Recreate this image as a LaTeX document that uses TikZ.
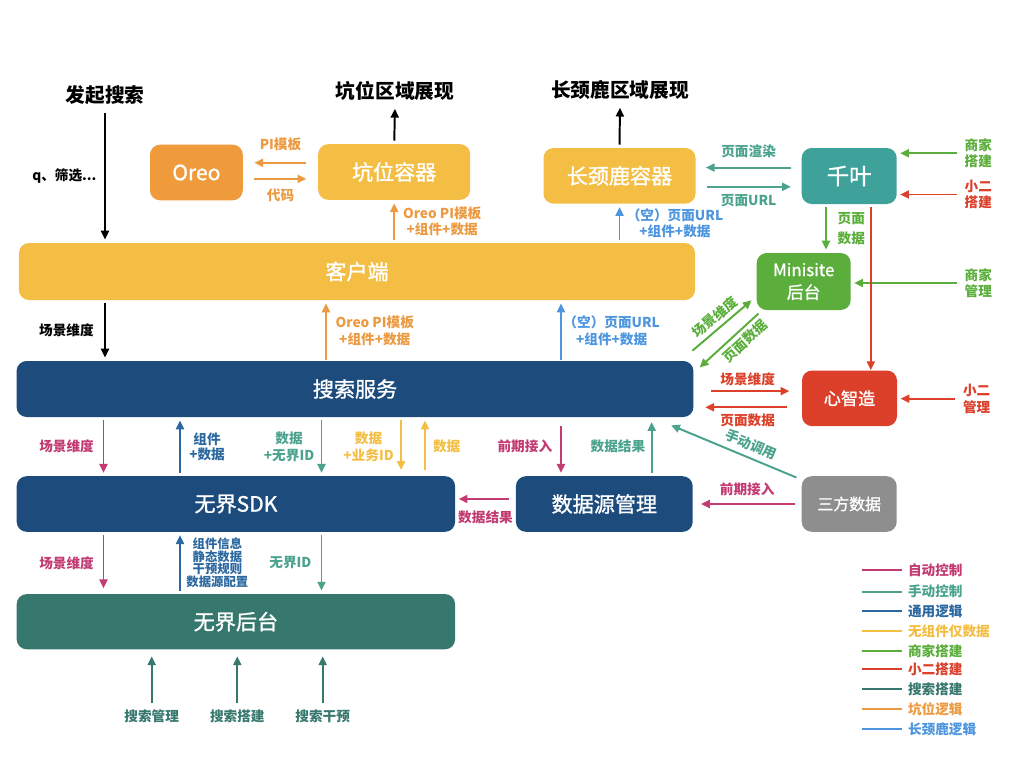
\documentclass[tikz,border=0pt]{standalone}
\usepackage{fontspec}
\setmainfont{Noto Sans CJK SC}
\newfontfamily\boxfont{Noto Sans CJK SC}[FakeBold=1.2]
\usepackage{tikz}
\usetikzlibrary{arrows.meta,positioning,calc}
\definecolor{oreo}{HTML}{EF9A3B}
\definecolor{yel}{HTML}{F3BE43}
\definecolor{dblue}{HTML}{1C4B7C}
\definecolor{qteal}{HTML}{3EA29A}
\definecolor{sgreen}{HTML}{5BAE3B}
\definecolor{xred}{HTML}{DC3F2A}
\definecolor{sgray}{HTML}{8E8E8E}
\definecolor{dteal}{HTML}{37786E}
\definecolor{mag}{HTML}{C23B72}
\definecolor{mteal}{HTML}{4BA38E}
\definecolor{nblue}{HTML}{2B68A0}
\definecolor{orng}{HTML}{EC9A41}
\definecolor{lblue}{HTML}{4D95DE}

\begin{document}
\begin{tikzpicture}[x=0.25mm, y=-0.25mm, >={Triangle[length=2.2mm,width=2mm]}, every node/.style={font=\fontsize{9.7}{12}\selectfont\bfseries, align=center}, box/.style={rounded corners=2.5mm, minimum height=13.9mm, text=white, font=\fontsize{15}{18}\selectfont\boxfont, inner sep=0pt}, title/.style={font=\fontsize{14}{16}\selectfont\bfseries}, side/.style={font=\fontsize{9.7}{11.7}\selectfont\bfseries}, arr/.style={->, line width=1.4pt, shorten <=0.8mm, shorten >=0.8mm}]
\useasboundingbox (0,0) rectangle (1024,768);
% titles
\node[title] (fq) at (105,95) {发起搜索};
\node[title] (kwshow) at (395,91) {坑位区域展现};
\node[title] (cjlshow) at (620,90) {长颈鹿区域展现};
% boxes
\node[box, fill=oreo, minimum width=23.2mm] (oreo) at (196.4,172.5) {Oreo};
\node[box, fill=yel, minimum width=38mm] (kw) at (394.2,172) {坑位容器};
\node[box, fill=yel, minimum width=38mm] (cjl) at (619.5,175.8) {长颈鹿容器};
\node[box, fill=qteal, minimum width=23.75mm, minimum height=14mm, font=\fontsize{16}{18}\selectfont\boxfont] (qy) at (849.2,176) {千叶};
\node[box, fill=yel, minimum width=169mm, minimum height=14.25mm] (khd) at (357,271.5) {客户端};
\node[box, fill=sgreen, minimum width=23.5mm, minimum height=14.25mm, font=\fontsize{12}{16}\selectfont\boxfont] (ms) at (803.7,281.5) {Minisite\\后台};
\node[box, fill=dblue, minimum width=169.2mm, minimum height=14mm] (ss) at (355,389) {搜索服务};
\node[box, fill=xred, minimum width=23.75mm, font=\fontsize{12.2}{14}\selectfont\boxfont] (xzz) at (849.5,398.3) {心智造};
\node[box, fill=dblue, minimum width=109.6mm] (sdk) at (235.9,504) {无界SDK};
\node[box, fill=dblue, minimum width=44.2mm] (sjy) at (604.3,504) {数据源管理};
\node[box, fill=sgray, minimum width=23.75mm, font=\fontsize{11.3}{14}\selectfont\boxfont] (sf) at (849.2,504) {三方数据};
\node[box, fill=dteal, minimum width=109.6mm, minimum height=13.8mm] (wjht) at (235.9,621.7) {无界后台};
% outside sources
\node[side, text=sgreen] (sjjj) at (978.3,153.3) {商家\\搭建};
\node[side, text=xred] (xejj) at (978.3,194.5) {小二\\搭建};
\node[side, text=sgreen] (sjgl) at (978.3,283) {商家\\管理};
\node[side, text=xred] (xegl) at (976.7,398.7) {小二\\管理};
\node[text=dteal] (ssgl) at (151.7,716.7) {搜索管理};
\node[text=dteal] (ssdj) at (237.3,716.7) {搜索搭建};
\node[text=dteal] (ssgy) at (322.7,716.7) {搜索干预};
% columns
\coordinate (c1) at (103.5,0);
\coordinate (c2) at (180,0);
\coordinate (c3) at (321.5,0);
\coordinate (c4) at (401,0);
\coordinate (c5) at (425,0);
\coordinate (c6) at (561,0);
\coordinate (c7) at (651.7,0);
\coordinate (c8) at (326,0);

\draw[arr] (fq.south) -- (khd.north -| fq) node[midway, left=0.7mm] {q、筛选...};
\draw[arr] (khd.south -| fq) -- (ss.north -| fq) node[midway, left=1.4mm] {场景维度};
\draw[arr] (kw.north) -- (kwshow.south);
\draw[arr] (cjl.north) -- (cjlshow.south);
\draw[arr, orng, shorten <=2.9mm, shorten >=2.8mm] ([yshift=2.3mm]kw.west) -- ([yshift=2.3mm]kw.west -| oreo.east) node[midway, above=1.5mm] {PI模板};
\draw[arr, orng, shorten <=2.8mm, shorten >=2.9mm] ([yshift=-1.6mm]oreo.east) -- ([yshift=-1.6mm]oreo.east -| kw.west) node[midway, below=1mm] {代码};
\draw[arr, orng] (khd.north -| kw) -- (kw.south) node[midway, right=0.8mm] {Oreo PI模板\\+组件+数据};
\draw[arr, lblue] (khd.north -| cjl) -- (cjl.south) node[midway, right=0.4mm] {（空）页面URL\\+组件+数据};
\draw[arr, orng, shorten <=0.2mm] (ss.north -| c8) -- (khd.south -| c8) node[midway, right=1mm] {Oreo PI模板\\+组件+数据};
\draw[arr, lblue, shorten <=0.2mm] (ss.north -| c6) -- (khd.south -| c6) node[midway, right=-0.8mm] {（空）页面URL\\+组件+数据};
\draw[arr, mteal, shorten <=2.5mm, shorten >=2.5mm] ([yshift=2.1mm]qy.west) -- ([yshift=2.1mm]qy.west -| cjl.east) node[midway, above=1.1mm] {页面渲染};
\draw[arr, mteal, shorten <=2.9mm, shorten >=2.6mm] ([yshift=-2.7mm]qy.west -| cjl.east) -- ([yshift=-2.7mm]qy.west) node[midway, below=0.5mm] {页面URL};
\draw[arr, sgreen] (sjjj.west) -- (sjjj.west -| qy.east);
\draw[arr, xred] (xejj.west) -- (xejj.west -| qy.east);
\draw[arr, sgreen] (sjgl.west) -- (sjgl.west -| ms.east);
\draw[arr, xred] (xegl.west) -- (xegl.west -| xzz.east);
\draw[arr, sgreen] ([xshift=-5.8mm]qy.south) -- ([xshift=-5.8mm]qy.south |- ms.north) node[midway, right=1.5mm, font=\fontsize{9.7}{14}\selectfont\bfseries] {页面\\数据};
\draw[arr, xred, shorten >=0mm] ([xshift=5.4mm]qy.south) -- ([xshift=5.4mm]qy.south |- xzz.north);
\draw[arr, sgreen, shorten <=0mm, shorten >=0mm] ([shift={(-1.3,-10)}]ss.north east) -- ([shift={(-4.8,-10)}]ms.south west) node[midway, sloped, above=-0.3mm] {场景维度};
\draw[arr, sgreen, <-, shorten <=0mm, shorten >=0mm] ([shift={(6,6.7)}]ss.north east) -- ([shift={(2,3.3)}]ms.south west) node[pos=0.64, sloped, below=-0.3mm] {页面数据};
\draw[arr, xred, shorten <=4.2mm, shorten >=3.1mm] ([yshift=1.8mm]xzz.west -| ss.east) -- ([yshift=1.8mm]xzz.west) node[midway, above=0mm] {场景维度};
\draw[arr, xred, shorten <=3.75mm, shorten >=2.9mm] ([yshift=-2.25mm]xzz.west) -- ([yshift=-2.25mm]xzz.west -| ss.east) node[midway, below=0.3mm] {页面数据};
% search service and sdk
\draw[arr, mag] (ss.south -| c1) -- (sdk.north -| c1) node[midway, left=1mm] {场景维度};
\draw[arr, nblue] (sdk.north -| c2) -- (ss.south -| c2) node[midway, right=0.9mm, font=\fontsize{9.7}{10.5}\selectfont\bfseries] {组件\\+数据};
\draw[arr, mteal] (ss.south -| c3) -- (sdk.north -| c3) node[midway, left=0.4mm] {数据\\+无界ID};
\draw[arr, yel, shorten >=1.5mm] (ss.south -| c4) -- (sdk.north -| c4) node[midway, left=0.4mm] {数据\\+业务ID};
\draw[arr, yel, shorten <=1.5mm] (sdk.north -| c5) -- (ss.south -| c5) node[midway, right=0.6mm] {数据};
\draw[arr, mag, shorten <=2.2mm] (ss.south -| c6) -- (sjy.north -| c6) node[midway, left=0.8mm] {前期接入};
\draw[arr, mteal, shorten >=1.2mm] (sjy.north -| c7) -- (ss.south -| c7) node[midway, left=0.2mm] {数据结果};
\draw[arr, mteal, <-, shorten <=0mm, shorten >=0mm] ([shift={(-22.6,8)}]ss.south east) -- ([shift={(-5,1.6)}]sf.north west) node[pos=0.6, sloped, above=0.2mm] {手动调用};
\draw[arr, mag, shorten <=1.7mm, shorten >=2mm] (sf.west) -- (sjy.east) node[midway, above=0.6mm] {前期接入};
\draw[arr, mag, shorten <=1.6mm] ([yshift=1.25mm]sjy.west) -- ([yshift=1.25mm]sjy.west -| sdk.east) node[midway, below=1.4mm] {数据结果};
% sdk and backend
\draw[arr, mag, shorten >=1.4mm] (sdk.south -| c1) -- (wjht.north -| c1) node[midway, left=1mm] {场景维度};
\draw[arr, nblue] (wjht.north -| c2) -- (sdk.south -| c2) node[midway, right=0.2mm, font=\fontsize{8.8}{8.9}\selectfont\bfseries] {组件信息\\静态数据\\干预规则\\数据源配置};
\draw[arr, mteal] (sdk.south -| c3) -- (wjht.north -| c3) node[midway, left=1.1mm] {无界ID};
\draw[arr, dteal, shorten <=0.5mm, shorten >=1.7mm] (ssgl.north) -- (ssgl.north |- wjht.south);
\draw[arr, dteal, shorten <=0.5mm, shorten >=1.7mm] (ssdj.north) -- (ssdj.north |- wjht.south);
\draw[arr, dteal, shorten <=0.5mm, shorten >=1.7mm] (ssgy.north) -- (ssgy.north |- wjht.south);
% legend
\foreach \col/\txt/\yy [count=\i] in {mag/自动控制/570, mteal/手动控制/591.7, nblue/通用逻辑/611, yel/无组件仅数据/631, sgreen/商家搭建/651, xred/小二搭建/669.3, dteal/搜索搭建/689.3, orng/坑位逻辑/709.3, lblue/长颈鹿逻辑/729.3}
  \draw[\col, line width=1.2pt] (861.7,\yy) -- (901.7,\yy) node[right=0.2mm, text=\col] (lg\i) {\txt};
\end{tikzpicture}
\end{document}
